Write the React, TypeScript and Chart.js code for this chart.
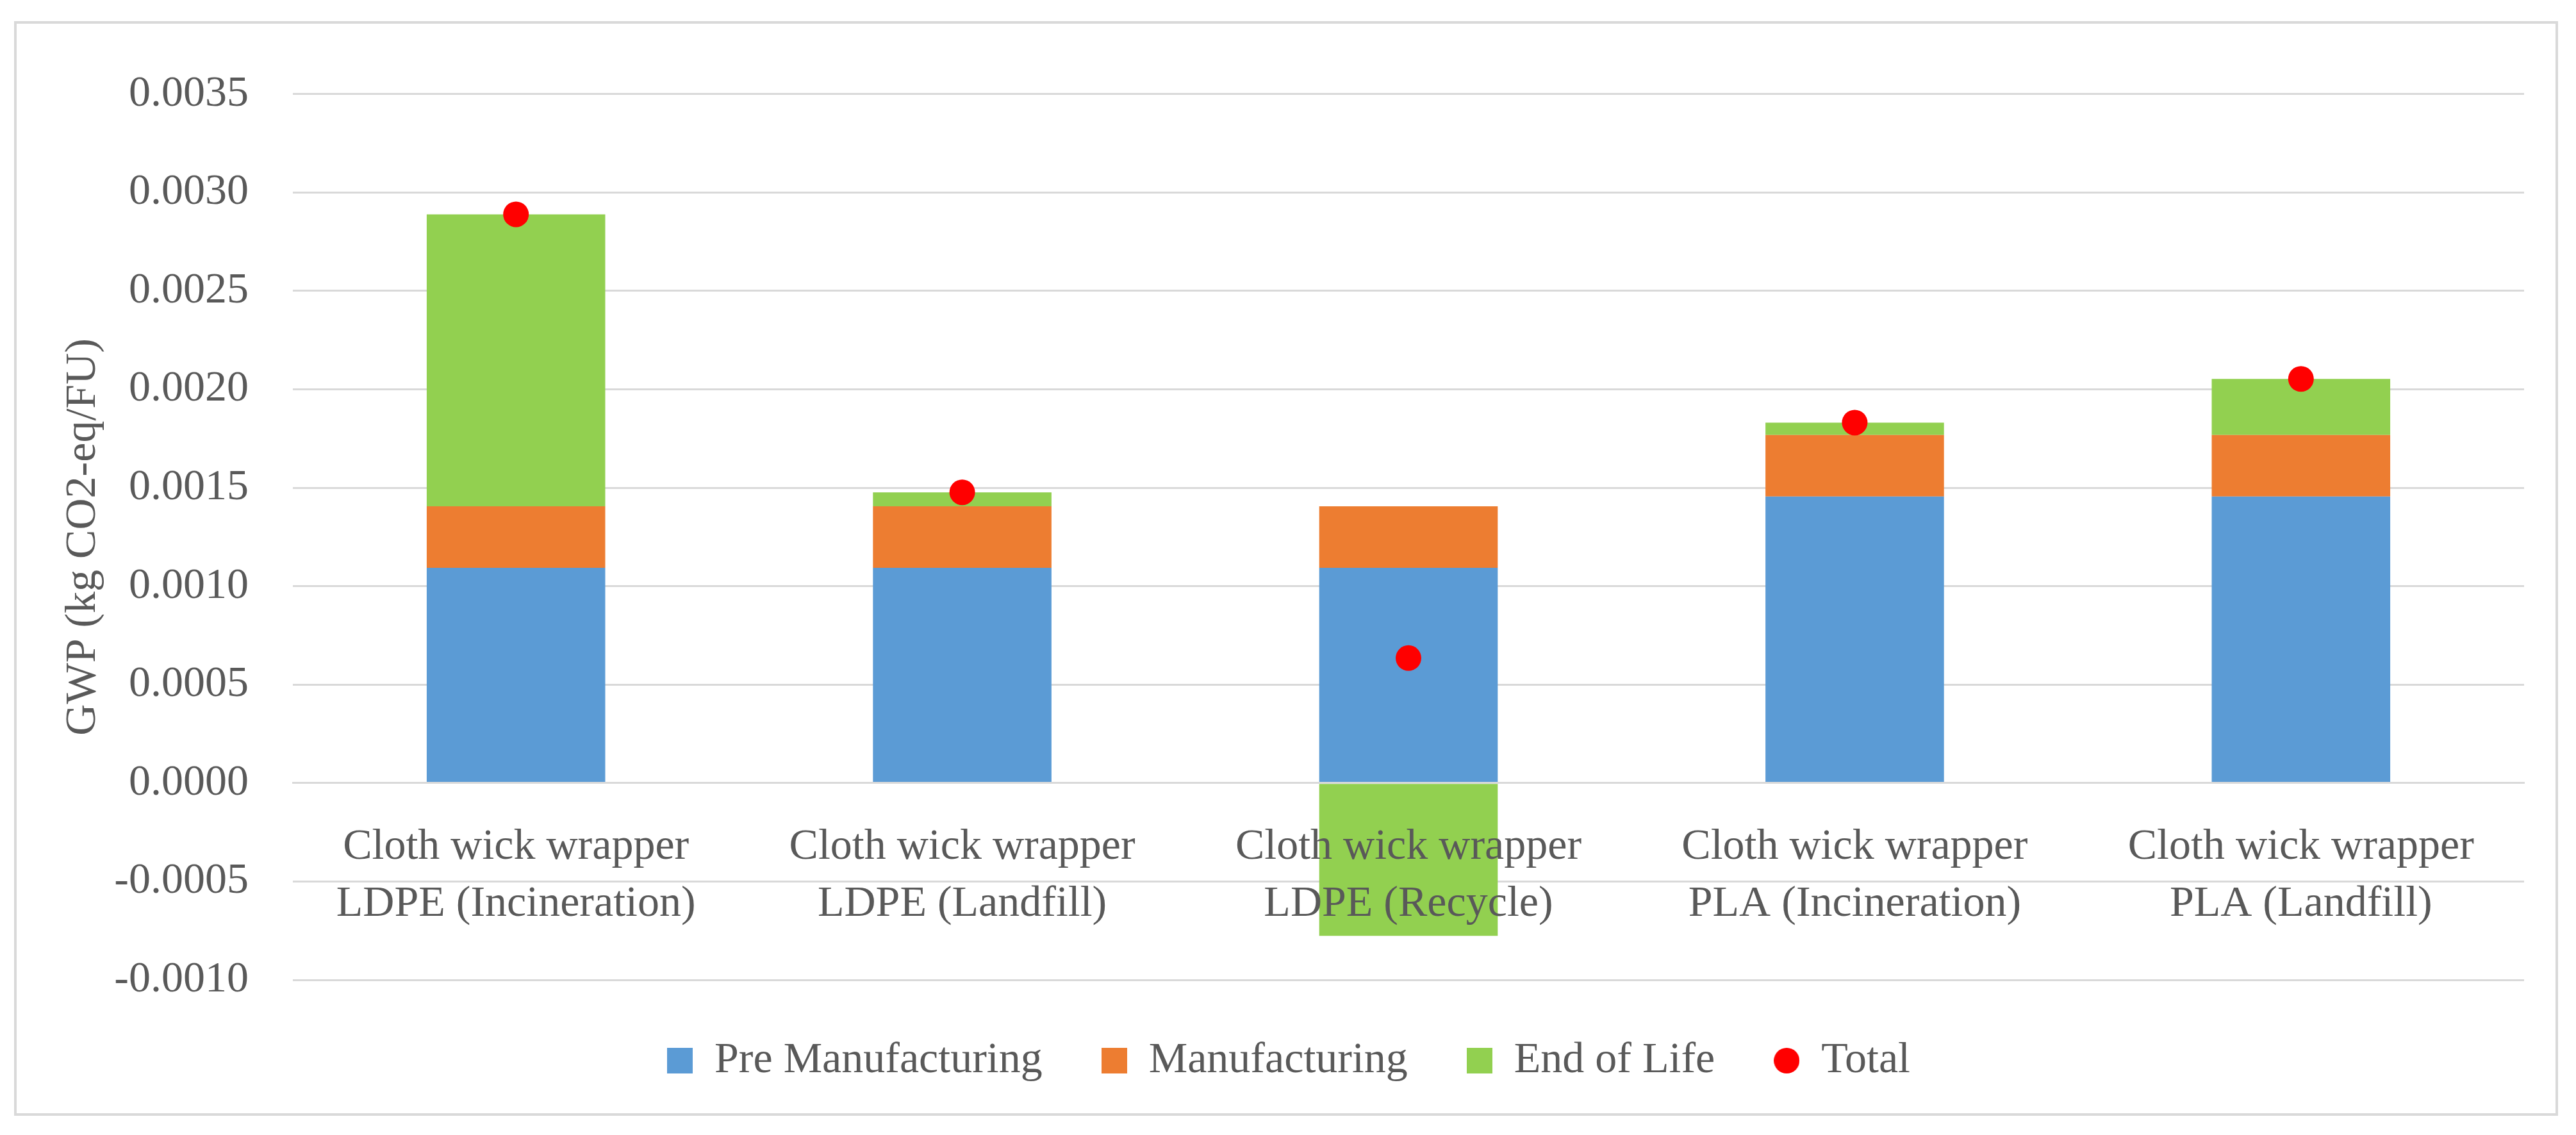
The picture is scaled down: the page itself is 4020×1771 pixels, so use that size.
import { useEffect, useRef } from 'react';
import { Chart, registerables } from 'chart.js';

Chart.register(...registerables);

const categories: string[][] = [
  ['Cloth wick wrapper', 'LDPE (Incineration)'],
  ['Cloth wick wrapper', 'LDPE (Landfill)'],
  ['Cloth wick wrapper', 'LDPE (Recycle)'],
  ['Cloth wick wrapper', 'PLA (Incineration)'],
  ['Cloth wick wrapper', 'PLA (Landfill)'],
];
const seriesNames = ['Pre Manufacturing', 'Manufacturing', 'End of Life', 'Total'];
const preManufacturing = [0.001093, 0.001093, 0.001093, 0.001456, 0.001456];
const manufacturing = [0.000313, 0.000313, 0.000313, 0.000312, 0.000312];
const endOfLife = [0.001483, 0.000071, -0.000776, 0.000063, 0.000285];
const total = [0.002889, 0.001477, 0.000635, 0.001831, 0.002053];
const yMin = -0.001;
const yMax = 0.0035;
const yStep = 0.0005;
const yTitle = 'GWP (kg CO2-eq/FU)';

const COLORS = ['#5B9BD5', '#ED7D31', '#92D050', '#FF0000'];
const TEXT = '#595959';
const GRID = '#D9D9D9';
const FAMILY = '"Liberation Serif", "Times New Roman", serif';

function makeSwatch(color: string, round: boolean, size: number) {
  const c = document.createElement('canvas');
  c.width = size;
  c.height = size;
  const ctx = c.getContext('2d')!;
  ctx.fillStyle = color;
  if (round) {
    ctx.beginPath();
    ctx.arc(size / 2, size / 2, size / 2, 0, Math.PI * 2);
    ctx.fill();
  } else {
    ctx.fillRect(0, 0, size, size);
  }
  return c;
}

export default function App() {
  const ref = useRef<HTMLCanvasElement>(null);

  useEffect(() => {
    const canvas = ref.current;
    if (!canvas) return;
    const swatches = [
      makeSwatch(COLORS[0], false, 40),
      makeSwatch(COLORS[1], false, 40),
      makeSwatch(COLORS[2], false, 40),
      makeSwatch(COLORS[3], true, 40),
    ];
    const chart = new Chart(canvas, {
      type: 'bar',
      data: {
        labels: categories,
        datasets: [
          { label: seriesNames[0], data: preManufacturing, backgroundColor: COLORS[0], stack: 'gwp', order: 1 },
          { label: seriesNames[1], data: manufacturing, backgroundColor: COLORS[1], stack: 'gwp', order: 1 },
          { label: seriesNames[2], data: endOfLife, backgroundColor: COLORS[2], stack: 'gwp', order: 1 },
          {
            type: 'line',
            label: seriesNames[3],
            data: total,
            showLine: false,
            pointRadius: 20,
            pointHoverRadius: 20,
            pointBackgroundColor: COLORS[3],
            pointBorderWidth: 0,
            borderColor: COLORS[3],
            backgroundColor: COLORS[3],
            order: 0,
          } as any,
        ],
      },
      options: {
        animation: false,
        responsive: true,
        maintainAspectRatio: false,
        events: [],
        layout: { padding: { left: 57, right: 49, top: 64, bottom: 38 } },
        datasets: { bar: { barPercentage: 0.4, categoryPercentage: 1 } },
        scales: {
          x: {
            stacked: true,
            position: { y: 0 } as any,
            grid: { display: false },
            border: { display: true, color: GRID, width: 3, z: 1 },
            ticks: {
              z: 1,
              padding: 48,
              color: TEXT,
              maxRotation: 0,
              autoSkip: false,
              font: { family: FAMILY, size: 68, lineHeight: 1.31 },
            },
          },
          y: {
            stacked: true,
            min: yMin,
            max: yMax,
            ticks: {
              stepSize: yStep,
              padding: 69,
              color: TEXT,
              font: { family: FAMILY, size: 68 },
              callback: (v: any) => {
                const n = Number(v);
                return Math.abs(n) < 1e-12 ? '0.0000' : n.toFixed(4);
              },
            },
            grid: { color: GRID, lineWidth: 3, drawTicks: false },
            border: { display: false },
            title: {
              display: true,
              text: yTitle,
              color: TEXT,
              font: { family: FAMILY, size: 68, lineHeight: 1.2 },
              padding: { top: 6, bottom: 0 },
            },
            afterFit: (scale: any) => {
              scale.width = 374;
            },
          },
        },
        plugins: {
          legend: {
            position: 'bottom',
            labels: {
              usePointStyle: true,
              boxWidth: 40,
              boxHeight: 40,
              padding: 92,
              color: TEXT,
              font: { family: FAMILY, size: 68 },
              generateLabels: (c: any) => {
                const items = (Chart.defaults.plugins.legend.labels as any).generateLabels(c);
                return items.map((it: any) => ({
                  ...it,
                  pointStyle: swatches[it.datasetIndex],
                  lineWidth: 0,
                  strokeStyle: 'rgba(0,0,0,0)',
                }));
              },
              sort: (a: any, b: any) => a.datasetIndex - b.datasetIndex,
            },
          },
          tooltip: { enabled: false },
        },
      },
    });
    return () => chart.destroy();
  }, []);

  return (
    <div
      style={{
        position: 'absolute',
        left: 22,
        top: 33,
        width: 3970,
        height: 1708,
        boxSizing: 'border-box',
        border: '4px solid #D9D9D9',
        background: '#FFFFFF',
      }}
    >
      <div style={{ position: 'relative', width: '100%', height: '100%' }}>
        <canvas ref={ref} />
      </div>
    </div>
  );
}
